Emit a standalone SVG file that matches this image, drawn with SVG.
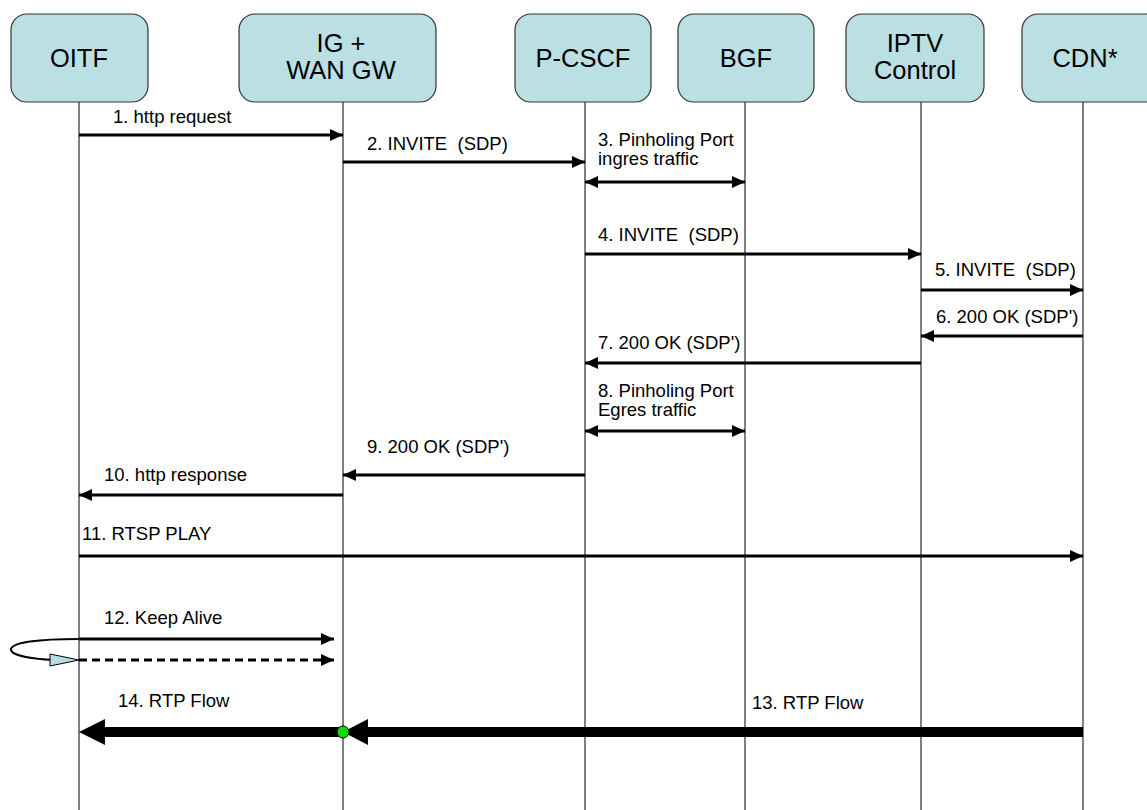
<svg xmlns="http://www.w3.org/2000/svg" width="1147" height="810" viewBox="0 0 1147 810">
<style>
.box{fill:#BBE0E3;stroke:#333;stroke-width:1.2}
.bt{font-family:"Liberation Sans",Arial,sans-serif;font-size:25.5px;fill:#000;text-anchor:middle}
.lt{font-family:"Liberation Sans",Arial,sans-serif;font-size:18.5px;fill:#000;white-space:pre}
.life{stroke:#000;stroke-width:1}
.msg{stroke:#000;stroke-width:3;fill:none}
.dash{stroke:#000;stroke-width:3;fill:none;stroke-dasharray:8 5}
</style>
<defs>
<marker id="ah" markerUnits="userSpaceOnUse" markerWidth="14" markerHeight="12" refX="13" refY="6" orient="auto-start-reverse">
<path d="M0,0 L13,6 L0,12 z" fill="#000"/>
</marker>
</defs>
<rect width="1147" height="810" fill="#fff"/>
<g id="lifelines">
<line class="life" x1="79" y1="102" x2="79" y2="810"/>
<line class="life" x1="343" y1="102" x2="343" y2="810"/>
<line class="life" x1="585" y1="102" x2="585" y2="810"/>
<line class="life" x1="745" y1="102" x2="745" y2="810"/>
<line class="life" x1="921" y1="102" x2="921" y2="810"/>
<line class="life" x1="1083" y1="102" x2="1083" y2="810"/>
</g>
<g id="OITF"><rect class="box" x="11" y="14" width="137" height="88" rx="16"/><text class="bt" x="79" y="67">OITF</text></g>
<g id="IG"><rect class="box" x="239" y="14" width="197" height="88" rx="16"/><text class="bt" x="341" y="52">IG +</text><text class="bt" x="341" y="79">WAN GW</text></g>
<g id="PCSCF"><rect class="box" x="515" y="14" width="136" height="88" rx="16"/><text class="bt" x="583" y="67">P-CSCF</text></g>
<g id="BGF"><rect class="box" x="678" y="14" width="136" height="88" rx="16"/><text class="bt" x="746" y="67">BGF</text></g>
<g id="IPTV"><rect class="box" x="846" y="14" width="138" height="88" rx="16"/><text class="bt" x="915" y="52">IPTV</text><text class="bt" x="915" y="79">Control</text></g>
<g id="CDN"><rect class="box" x="1022" y="14" width="140" height="88" rx="16"/><text class="bt" x="1085" y="67">CDN*</text></g>
<g id="connectors">
<line class="msg" x1="79" y1="135" x2="343" y2="135" marker-end="url(#ah)"/>
<line class="msg" x1="343" y1="162" x2="585" y2="162" marker-end="url(#ah)"/>
<line class="msg" x1="585" y1="182" x2="745" y2="182" marker-start="url(#ah)" marker-end="url(#ah)"/>
<line class="msg" x1="585" y1="254" x2="921" y2="254" marker-end="url(#ah)"/>
<line class="msg" x1="921" y1="290" x2="1083" y2="290" marker-end="url(#ah)"/>
<line class="msg" x1="1083" y1="336" x2="921" y2="336" marker-end="url(#ah)"/>
<line class="msg" x1="921" y1="363" x2="585" y2="363" marker-end="url(#ah)"/>
<line class="msg" x1="585" y1="431" x2="745" y2="431" marker-start="url(#ah)" marker-end="url(#ah)"/>
<line class="msg" x1="585" y1="475" x2="343" y2="475" marker-end="url(#ah)"/>
<line class="msg" x1="343" y1="495" x2="79" y2="495" marker-end="url(#ah)"/>
<line class="msg" x1="79" y1="556" x2="1083" y2="556" marker-end="url(#ah)"/>
<line class="msg" x1="79" y1="639" x2="334" y2="639" marker-end="url(#ah)"/>
<line class="dash" x1="79" y1="660" x2="334" y2="660" marker-end="url(#ah)"/>
<path d="M79,639 C40,639 10,642 11,650 C12,656 35,659 55,660" fill="none" stroke="#000" stroke-width="2"/>
<polygon points="50,654 79,660 50,666" fill="#B7DDE8" stroke="#000" stroke-width="1"/>
<line x1="1083" y1="732" x2="365" y2="732" stroke="#000" stroke-width="10"/>
<polygon points="343,732 368,719 368,745" fill="#000"/>
<line x1="343" y1="732" x2="100" y2="732" stroke="#000" stroke-width="10"/>
<polygon points="79,732 105,719 105,745" fill="#000"/>
<circle cx="343" cy="732" r="6" fill="#00E000" stroke="#000" stroke-width="1"/>
</g>
<g id="labels">
<text class="lt" x="113" y="123">1. http request</text>
<text class="lt" x="367" y="150">2. INVITE  (SDP)</text>
<text class="lt" x="598" y="146">3. Pinholing Port</text>
<text class="lt" x="598" y="165">ingres traffic</text>
<text class="lt" x="598" y="241">4. INVITE  (SDP)</text>
<text class="lt" x="935" y="276">5. INVITE  (SDP)</text>
<text class="lt" x="936" y="323">6. 200 OK (SDP')</text>
<text class="lt" x="598" y="349">7. 200 OK (SDP')</text>
<text class="lt" x="598" y="397">8. Pinholing Port</text>
<text class="lt" x="598" y="416">Egres traffic</text>
<text class="lt" x="367" y="453">9. 200 OK (SDP')</text>
<text class="lt" x="104" y="481">10. http response</text>
<text class="lt" x="82" y="540">11. RTSP PLAY</text>
<text class="lt" x="104" y="624">12. Keep Alive</text>
<text class="lt" x="118" y="707">14. RTP Flow</text>
<text class="lt" x="752" y="709">13. RTP Flow</text>
</g>
</svg>
